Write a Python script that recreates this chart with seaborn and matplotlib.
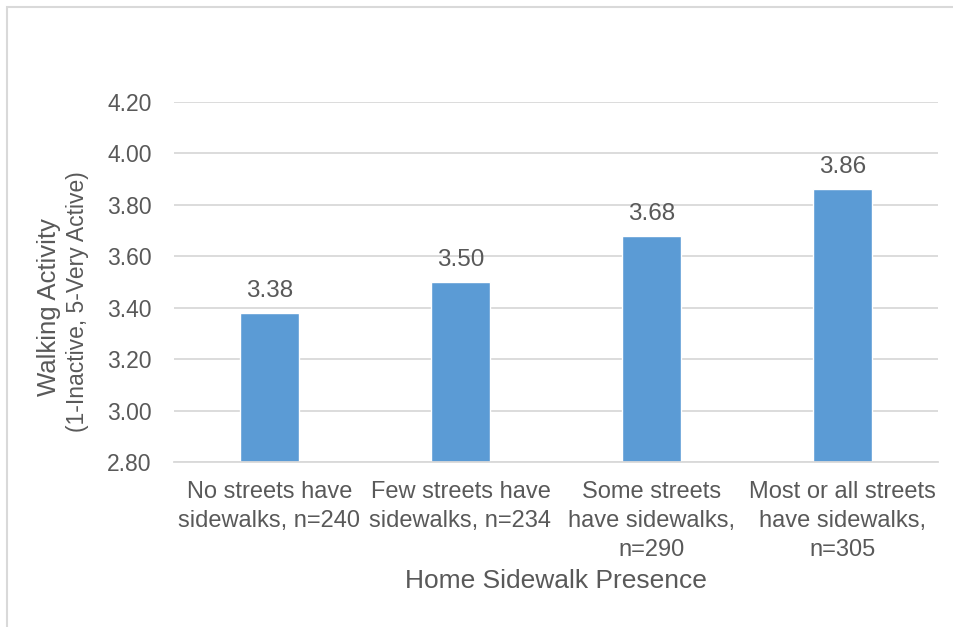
import numpy as np
import pandas as pd
import matplotlib
matplotlib.use("Agg")
import matplotlib.pyplot as plt
import seaborn as sns
from matplotlib.patches import Rectangle

categories = [
    "No streets have\nsidewalks, n=240",
    "Few streets have\nsidewalks, n=234",
    "Some streets\nhave sidewalks,\nn=290",
    "Most or all streets\nhave sidewalks,\nn=305",
]
values = [3.38, 3.50, 3.68, 3.86]
y_ticks = [2.80, 3.00, 3.20, 3.40, 3.60, 3.80, 4.00, 4.20]

sns.set_theme(style="white")
plt.rcParams['font.family'] = ['Liberation Sans', 'DejaVu Sans']

text_color = '#595959'
bar_color = '#5B9BD5'
grid_color = '#D9D9D9'

df = pd.DataFrame({'Category': categories, 'Value': values})

fig = plt.figure(figsize=(9.54, 6.27), dpi=100)
ax = fig.add_axes([174 / 954, 1 - 462 / 627, (938 - 174) / 954, (462 - 102) / 627])

sns.barplot(data=df, x='Category', y='Value', ax=ax, color=bar_color,
            width=0.31, saturation=1)

ax.set_ylim(2.80, 4.20)
ax.set_yticks(y_ticks)
ax.set_yticklabels([f"{t:.2f}" for t in y_ticks])
ax.yaxis.grid(True, color=grid_color, linewidth=1.3)
ax.set_axisbelow(True)
for s in ['top', 'right', 'left']:
    ax.spines[s].set_visible(False)
ax.spines['bottom'].set_color(grid_color)
ax.spines['bottom'].set_linewidth(1.3)

ax.tick_params(axis='y', length=0, pad=16, labelsize=16.5, labelcolor=text_color)
ax.tick_params(axis='x', length=0, pad=14, labelsize=17, labelcolor=text_color)
for lbl in ax.get_xticklabels():
    lbl.set_linespacing(1.4)
ax.set_xlabel('')
ax.set_ylabel('')

for container in ax.containers:
    ax.bar_label(container, fmt='%.2f', padding=8, fontsize=17.5, color=text_color)

fig.text(556 / 954, 1 - 581 / 627, 'Home Sidewalk Presence', ha='center', va='center',
         fontsize=19, color=text_color)
fig.text(49 / 954, 1 - 307 / 627, 'Walking Activity', ha='center', va='center',
         rotation=90, fontsize=18.5, color=text_color)
fig.text(78 / 954, 1 - 302 / 627, '(1-Inactive, 5-Very Active)', ha='center', va='center',
         rotation=90, fontsize=16.5, color=text_color)

fig.patches.append(Rectangle((7 / 954, -0.1), 1.2, 1 - 7 / 627 + 0.1,
                             transform=fig.transFigure, fill=False,
                             edgecolor=grid_color, linewidth=1.5))

fig.savefig('out.png', dpi=100)
